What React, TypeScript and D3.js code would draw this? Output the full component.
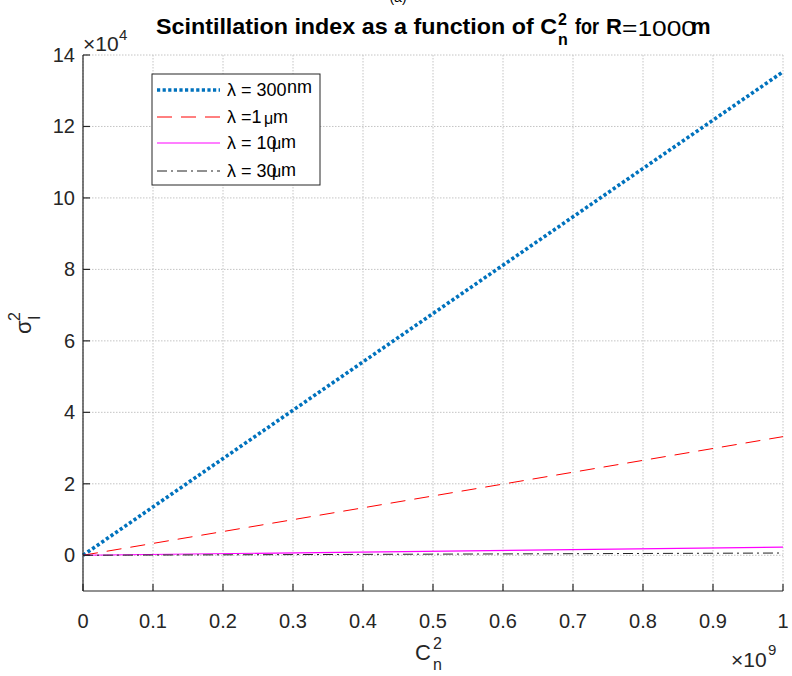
import React from "react";
import * as d3 from "d3";

const cn2 = [0, 1e-9];
const sig300nm = [0, 135300];
const sig1um = [0, 33200];
const sig10um = [0, 2260];
const sig30um = [0, 630];
const xTickValues = [0, 0.1, 0.2, 0.3, 0.4, 0.5, 0.6, 0.7, 0.8, 0.9, 1];
const xTickLabels = ["0", "0.1", "0.2", "0.3", "0.4", "0.5", "0.6", "0.7", "0.8", "0.9", "1"];
const yTickValues = [0, 2, 4, 6, 8, 10, 12, 14];
const yTickLabels = ["0", "2", "4", "6", "8", "10", "12", "14"];

const series = [
  { name: "300", values: sig300nm, color: "#0072bd", width: 3.6, dash: "3.2,2.4" },
  { name: "1", values: sig1um, color: "#ff0000", width: 1, dash: "15,9" },
  { name: "10", values: sig10um, color: "#ff00ff", width: 1.2, dash: "" },
  { name: "30", values: sig30um, color: "#222222", width: 1, dash: "10,4,2,4" },
];

const L = 83, R = 783, T = 55, B = 591;
const FONT = "'Liberation Sans', Arial, Helvetica, sans-serif";
const TXT = "#262626";

export default function App() {
  const x = d3.scaleLinear().domain([0, 1e-9]).range([L, R]);
  const xt = d3.scaleLinear().domain([0, 1]).range([L, R]);
  const y = d3.scaleLinear().domain([-1e4, 14e4]).range([B, T]);
  const yt = d3.scaleLinear().domain([-1, 14]).range([B, T]);
  const line = d3
    .line<[number, number]>()
    .x((d) => x(d[0]))
    .y((d) => y(d[1]));

  const legendY = [90, 117, 143, 171];

  return (
    <svg
      width={792}
      height={676}
      style={{ position: "absolute", left: 0, top: 0, background: "#fff" }}
      fontFamily={FONT}
    >
      <rect x={0} y={0} width={792} height={676} fill="#fff" />
      {/* grid */}
      {xTickValues.map((v, i) => (
        <line key={"gx" + i} x1={xt(v)} x2={xt(v)} y1={T} y2={B} stroke="#c4c4c4" strokeWidth={1} strokeDasharray="1.5,1.5" />
      ))}
      {yTickValues.map((v, i) => (
        <line key={"gy" + i} x1={L} x2={R} y1={yt(v)} y2={yt(v)} stroke="#c4c4c4" strokeWidth={1} strokeDasharray="1.5,1.5" />
      ))}
      {/* series */}
      {series.map((s, i) => (
        <path
          key={"s" + i}
          d={line(cn2.map((c, j) => [c, s.values[j]] as [number, number])) || ""}
          fill="none"
          stroke={s.color}
          strokeWidth={s.width}
          strokeDasharray={s.dash || undefined}
        />
      ))}
      {/* axes */}
      <line x1={L} x2={L} y1={T} y2={B} stroke={TXT} strokeWidth={1.2} />
      <line x1={L} x2={R} y1={B} y2={B} stroke={TXT} strokeWidth={1.2} />
      {xTickValues.map((v, i) => (
        <g key={"xt" + i}>
          <line x1={xt(v)} x2={xt(v)} y1={B} y2={B - 7} stroke={TXT} strokeWidth={1.2} />
          <text x={xt(v)} y={628} fontSize={20} fill={TXT} textAnchor="middle">
            {xTickLabels[i]}
          </text>
        </g>
      ))}
      {yTickValues.map((v, i) => (
        <g key={"yt" + i}>
          <line x1={L} x2={L + 7} y1={yt(v)} y2={yt(v)} stroke={TXT} strokeWidth={1.2} />
          <text x={75} y={yt(v) + 7} fontSize={20} fill={TXT} textAnchor="end">
            {yTickLabels[i]}
          </text>
        </g>
      ))}
      {/* exponents */}
      <text x={83} y={51} fontSize={21} fill={TXT}>
        ×10
      </text>
      <text x={119} y={40} fontSize={15} fill={TXT}>4</text>
      <text x={731} y={667} fontSize={21} fill={TXT}>
        ×10
      </text>
      <text x={768} y={655} fontSize={15} fill={TXT}>9</text>
      {/* axis labels */}
      <text x={415} y={660} fontSize={22} fill={TXT}>C</text>
      <text x={433} y={649} fontSize={16} fill={TXT}>2</text>
      <text x={433} y={670} fontSize={16} fill={TXT}>n</text>
      <g transform="translate(31,334) rotate(-90)">
        <text x={0} y={0} fontSize={22} fill={TXT}>σ</text>
        <text x={13} y={-11} fontSize={16} fill={TXT}>2</text>
        <text x={14} y={9} fontSize={16} fill={TXT}>I</text>
      </g>
      {/* title */}
      <text x={398} y={2} fontSize={14} fill="#000" textAnchor="middle">(a)</text>
      <text x={156} y={34} fontSize={22} fontWeight="bold" fill="#000" textLength={401} lengthAdjust="spacingAndGlyphs">
        Scintillation index as a function of C
      </text>
      <text x={558} y={25} fontSize={16} fontWeight="bold" fill="#000">2</text>
      <text x={558} y={45} fontSize={16} fontWeight="bold" fill="#000">n</text>
      <text x={575} y={34} fontSize={22} fontWeight="bold" fill="#000" textLength={24} lengthAdjust="spacingAndGlyphs">for</text>
      <text x={606} y={34} fontSize={22} fontWeight="bold" fill="#000">R</text>
      <text x={622} y={36} fontSize={22} fill="#000" textLength={74} lengthAdjust="spacingAndGlyphs">=1000</text>
      <text x={691} y={34} fontSize={22} fontWeight="bold" fill="#000">m</text>
      {/* legend */}
      <rect x={152} y={74} width={168} height={111} fill="#fff" stroke={TXT} strokeWidth={1} />
      {series.map((s, i) => (
        <line key={"lg" + i} x1={157} x2={220} y1={legendY[i]} y2={legendY[i]} stroke={s.color} strokeWidth={s.width} strokeDasharray={s.dash || undefined} />
      ))}
      <text x={227} y={legendY[0] + 6} fontSize={18} fill="#000">
        λ = 300
      </text>
      <text x={287} y={legendY[0] + 3} fontSize={18} fill="#000">nm</text>
      <text x={227} y={legendY[1] + 6} fontSize={18} fill="#000">λ =1</text>
      <text x={264} y={legendY[1] + 7} fontSize={16} fill="#000">μ</text>
      <text x={273} y={legendY[1] + 6} fontSize={18} fill="#000">m</text>
      <text x={227} y={legendY[2] + 6} fontSize={18} fill="#000">λ = 10</text>
      <text x={272} y={legendY[2] + 6} fontSize={16} fill="#000">μ</text>
      <text x={281} y={legendY[2] + 5} fontSize={18} fill="#000">m</text>
      <text x={227} y={legendY[3] + 6} fontSize={18} fill="#000">λ = 30</text>
      <text x={272} y={legendY[3] + 6} fontSize={16} fill="#000">μ</text>
      <text x={281} y={legendY[3] + 5} fontSize={18} fill="#000">m</text>
    </svg>
  );
}
